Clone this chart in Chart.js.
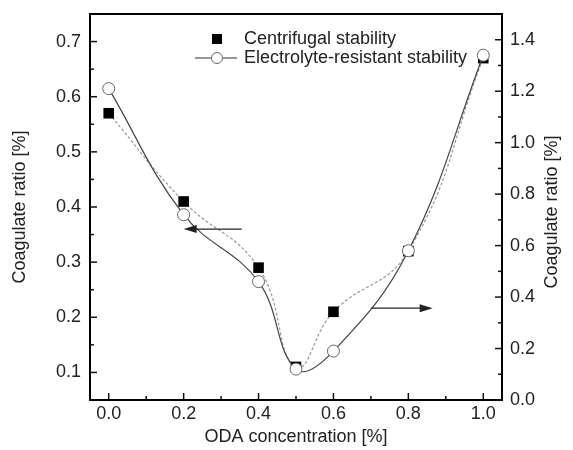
<!DOCTYPE html>
<html>
<head>
<meta charset="utf-8">
<script src="https://cdn.jsdelivr.net/npm/chart.js@4.4.1/dist/chart.umd.min.js"></script>
<style>
    html, body { margin: 0; padding: 0; background: #fff; }
    #wrap { width: 573px; height: 450px; }
</style>
</head>
<body>
<div id="wrap"><canvas id="coagulate-chart"></canvas></div>
<script>
// ODA concentration [%]
const concentrations = [0.0, 0.2, 0.4, 0.5, 0.6, 0.8, 1.0]
// coagulate ratio, left axis
const centrifugal = [0.57, 0.41, 0.29, 0.11, 0.21, 0.32, 0.67]
// coagulate ratio, right axis
const electrolyte = [1.21, 0.72, 0.46, 0.12, 0.19, 0.58, 1.34]

const xTicks = [0.0, 0.2, 0.4, 0.6, 0.8, 1.0]
const leftTicks = [0.1, 0.2, 0.3, 0.4, 0.5, 0.6, 0.7]
const rightTicks = [0.0, 0.2, 0.4, 0.6, 0.8, 1.0, 1.2, 1.4]

// arrows pointing each curve at its axis: [x from, x to, y value, axis]
const arrows = [
    [0.355, 0.2, 0.36, 'y'],
    [0.70, 0.865, 0.357, 'y2']
]

const FONT = 'Liberation Sans, Arial, Helvetica, sans-serif'
const INK = '#222'
const Y_TITLE = 'Coagulate ratio [%]'

function toPoints(values) {
    return concentrations.map((x, i) => ({ x, y: values[i] }))
}

// inward ticks, top border, right title, arrows and legend
const framePlugin = {
    id: 'frame',
    afterDraw(chart) {
        const ctx = chart.ctx
        const area = chart.chartArea
        const sx = chart.scales.x
        const sy = chart.scales.y
        const sy2 = chart.scales.y2

        ctx.save()
        ctx.strokeStyle = '#111'
        ctx.lineWidth = 1.5

        const line = (x1, y1, x2, y2) => {
            ctx.beginPath()
            ctx.moveTo(x1, y1)
            ctx.lineTo(x2, y2)
            ctx.stroke()
        }

        for (let v = 0; v <= 1.0001; v += 0.1) {
            const px = sx.getPixelForValue(v)
            const major = Math.round(v * 10) % 2 === 0
            line(px, area.bottom, px, area.bottom - (major ? 7 : 4))
        }
        for (let v = 0.1; v <= 0.7001; v += 0.05) {
            const py = sy.getPixelForValue(v)
            const major = Math.round(v * 100) % 10 === 0
            line(area.left, py, area.left + (major ? 7 : 4), py)
        }
        for (let v = 0; v <= 1.4001; v += 0.1) {
            const py = sy2.getPixelForValue(v)
            const major = Math.round(v * 10) % 2 === 0
            line(area.right, py, area.right - (major ? 7 : 4), py)
        }

        // top edge of the box
        ctx.lineWidth = 2
        ctx.strokeStyle = '#000'
        line(area.left, area.top, area.right, area.top)

        // right axis title, read bottom to top like the left one
        ctx.save()
        ctx.translate(area.right + 50, (area.top + area.bottom) / 2 + 5)
        ctx.rotate(-Math.PI / 2)
        ctx.font = '18px ' + FONT
        ctx.fillStyle = INK
        ctx.textAlign = 'center'
        ctx.textBaseline = 'middle'
        ctx.fillText(Y_TITLE, 0, 0)
        ctx.restore()

        // arrows
        ctx.lineWidth = 1.2
        ctx.strokeStyle = '#222'
        ctx.fillStyle = '#222'
        arrows.forEach(([from, to, val, axis]) => {
            const x1 = sx.getPixelForValue(from)
            const x2 = sx.getPixelForValue(to)
            const py = chart.scales[axis].getPixelForValue(val)
            const dir = Math.sign(x2 - x1)
            line(x1, py, x2 - dir * 10, py)
            ctx.beginPath()
            ctx.moveTo(x2, py)
            ctx.lineTo(x2 - dir * 13, py - 4)
            ctx.lineTo(x2 - dir * 13, py + 4)
            ctx.closePath()
            ctx.fill()
        })

        // legend
        const lx = area.left + 127
        const tx = area.left + 154
        ctx.font = '18px ' + FONT
        ctx.textBaseline = 'middle'
        ctx.fillStyle = '#000'
        ctx.fillRect(lx - 5, area.top + 20, 10, 10)
        ctx.fillStyle = INK
        ctx.fillText('Centrifugal stability', tx, area.top + 25)

        ctx.strokeStyle = '#333'
        ctx.lineWidth = 1.2
        line(lx - 22, area.top + 44, lx + 20, area.top + 44)
        ctx.beginPath()
        ctx.arc(lx, area.top + 44, 5.5, 0, Math.PI * 2)
        ctx.fillStyle = '#fff'
        ctx.fill()
        ctx.strokeStyle = '#666'
        ctx.lineWidth = 1
        ctx.stroke()
        ctx.fillStyle = INK
        ctx.fillText('Electrolyte-resistant stability', tx, area.top + 44)
        ctx.restore()
    }
}

// fixed axis box size, no extra room for overhanging labels
function fixedSize(prop, size) {
    return scale => {
        scale[prop] = size
        scale.paddingTop = 0
        scale.paddingBottom = 0
        scale.paddingLeft = 0
        scale.paddingRight = 0
    }
}

function createChart() {
    const canvas = document.querySelector('#coagulate-chart')
    const tickFont = { family: FONT, size: 18 }
    const titleFont = { family: FONT, size: 18 }

    new Chart(canvas, {
        type: 'scatter',
        data: {
            datasets: [
                {
                    label: 'Electrolyte-resistant stability',
                    data: toPoints(electrolyte),
                    yAxisID: 'y2',
                    showLine: true,
                    tension: 0.4,
                    borderColor: '#444',
                    borderWidth: 1.2,
                    pointStyle: 'circle',
                    pointRadius: 6,
                    pointBorderWidth: 1,
                    pointBorderColor: '#666',
                    pointBackgroundColor: '#fff',
                    order: 0
                },
                {
                    label: 'Centrifugal stability',
                    data: toPoints(centrifugal),
                    yAxisID: 'y',
                    showLine: true,
                    tension: 0.45,
                    borderColor: '#999',
                    borderWidth: 1.2,
                    borderDash: [3, 2],
                    pointStyle: 'rect',
                    pointRadius: 7.5,
                    pointBorderWidth: 0,
                    pointBackgroundColor: '#000',
                    order: 1
                }
            ]
        },
        options: {
            responsive: true,
            maintainAspectRatio: false,
            animation: false,
            layout: { padding: { top: 14, right: 0, bottom: 0, left: 0 } },
            plugins: {
                legend: { display: false },
                tooltip: { enabled: false }
            },
            scales: {
                x: {
                    type: 'linear',
                    min: -0.05,
                    max: 1.05,
                    afterFit: fixedSize('height', 50),
                    afterBuildTicks: s => { s.ticks = xTicks.map(value => ({ value })) },
                    grid: { display: false, drawTicks: false },
                    border: { display: true, color: '#000', width: 2 },
                    ticks: {
                        padding: 3,
                        color: INK,
                        font: tickFont,
                        maxRotation: 0,
                        callback: v => v.toFixed(1)
                    },
                    title: {
                        display: true,
                        text: 'ODA concentration [%]',
                        color: INK,
                        font: titleFont,
                        padding: { top: 0, bottom: 2 }
                    }
                },
                y: {
                    position: 'left',
                    min: 0.05,
                    max: 0.75,
                    afterFit: fixedSize('width', 90),
                    afterBuildTicks: s => { s.ticks = leftTicks.map(value => ({ value })) },
                    grid: { display: false, drawTicks: false },
                    border: { display: true, color: '#000', width: 2 },
                    ticks: {
                        padding: 9,
                        color: INK,
                        font: tickFont,
                        callback: v => v.toFixed(1)
                    },
                    title: {
                        display: true,
                        text: Y_TITLE,
                        color: INK,
                        font: titleFont,
                        padding: { top: 9, bottom: 0 }
                    }
                },
                y2: {
                    position: 'right',
                    min: 0,
                    max: 1.5,
                    afterFit: fixedSize('width', 71),
                    afterBuildTicks: s => { s.ticks = rightTicks.map(value => ({ value })) },
                    grid: { display: false, drawTicks: false },
                    border: { display: true, color: '#000', width: 2 },
                    ticks: {
                        padding: 8,
                        color: INK,
                        font: tickFont,
                        callback: v => v.toFixed(1)
                    }
                }
            }
        },
        plugins: [framePlugin]
    })
}

createChart()
</script>
</body>
</html>
